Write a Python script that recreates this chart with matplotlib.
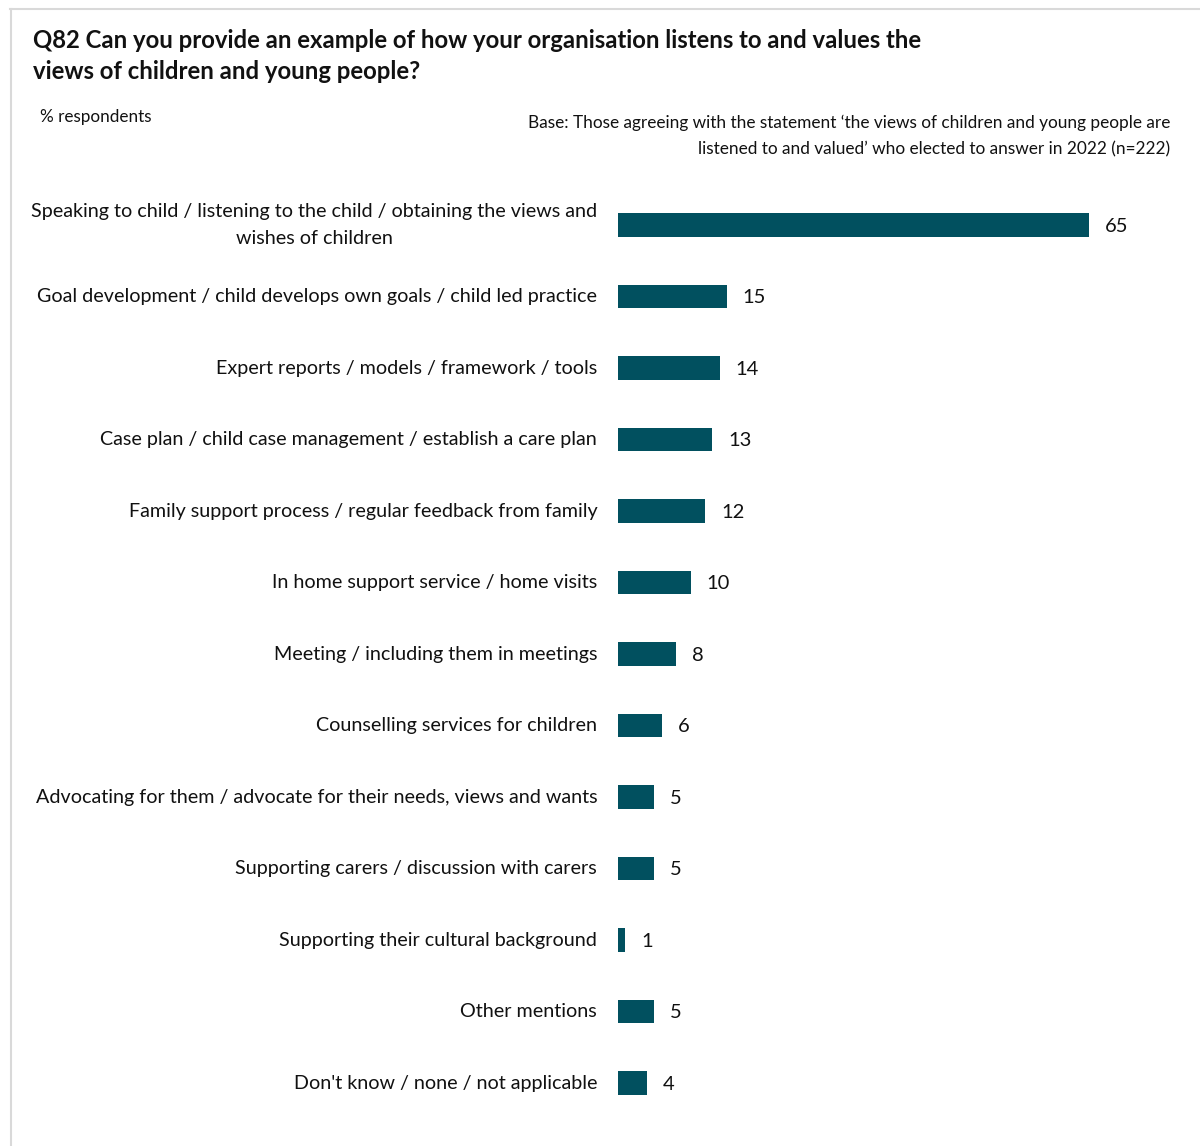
import matplotlib.pyplot as plt
from matplotlib.lines import Line2D

plt.rcParams['font.family'] = ['Lato', 'DejaVu Sans']

categories = [
    "Speaking to child / listening to the child / obtaining the views and\nwishes of children",
    "Goal development / child develops own goals / child led practice",
    "Expert reports / models / framework / tools",
    "Case plan / child case management / establish a care plan",
    "Family support process / regular feedback from family",
    "In home support service / home visits",
    "Meeting / including them in meetings",
    "Counselling services for children",
    "Advocating for them / advocate for their needs, views and wants",
    "Supporting carers / discussion with carers",
    "Supporting their cultural background",
    "Other mentions",
    "Don't know / none / not applicable",
]
values = [65, 15, 14, 13, 12, 10, 8, 6, 5, 5, 1, 5, 4]

bar_color = "#01505f"

fig = plt.figure(figsize=(12, 11.46), dpi=100)
W, H = 1200, 1146

# axes placed so bars start at x=618px
ax = fig.add_axes([618 / W, 1 - 1118.75 / H, (1180 - 618) / W, (1118.75 - 189.25) / H])
ypos = list(range(len(categories)))
ax.barh(ypos, values, height=0.335, color=bar_color)
ax.set_xlim(0, 77.5)
ax.set_ylim(len(categories) - 0.5, -0.5)
ax.set_yticks(ypos)
ax.set_yticklabels(categories, fontsize=14.2, color="#111111", ha="right",
                   multialignment="center", linespacing=1.65)
for t in ax.get_yticklabels():
    t.set_va("center")
ax.tick_params(axis="y", length=0, pad=15)
ax.set_xticks([])
for s in ax.spines.values():
    s.set_visible(False)

for y, v in zip(ypos, values):
    ax.annotate(str(v), (v, y), xytext=(11.5, -1), textcoords="offset points",
                va="center", ha="left", fontsize=14.5, color="#111111")

fig.text(33 / W, 1 - 56 / H, "Q82 Can you provide an example of how your organisation listens to and values the\nviews of children and young people?",
         fontsize=17.2, fontweight="bold", ha="left", va="center", linespacing=1.46, color="#111111")
fig.text(40 / W, 1 - 117 / H, "% respondents", fontsize=12.3, ha="left", va="center", color="#111111")
fig.text(1170 / W, 1 - 136 / H,
         "Base: Those agreeing with the statement \u2018the views of children and young people are\nlistened to and valued\u2019 who elected to answer in 2022 (n=222)",
         fontsize=12.42, ha="right", va="center", multialignment="right", linespacing=1.79, color="#111111")

# light frame on top and left
fig.add_artist(Line2D([10 / W, 1], [1 - 8.5 / H, 1 - 8.5 / H], color="#d9d9d9", lw=1.5))
fig.add_artist(Line2D([10.5 / W, 10.5 / W], [0, 1 - 8.5 / H], color="#d9d9d9", lw=1.5))

fig.savefig("out.png", dpi=100)
